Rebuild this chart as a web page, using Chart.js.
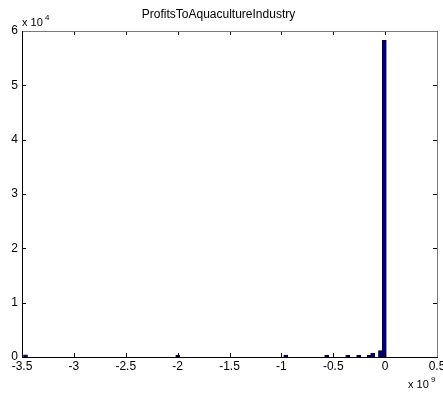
<!DOCTYPE html>
<html>
<head>
<meta charset="utf-8">
<script src="https://cdn.jsdelivr.net/npm/chart.js@4/dist/chart.umd.min.js"></script>
<style>
  html, body { margin: 0; padding: 0; background: #fff; }
  #wrap { width: 443px; height: 401px; }
</style>
</head>
<body>
<div id="wrap"><canvas id="histChart"></canvas></div>
<script>
// bin centres (x 10^9) of the non-empty bins, and their counts
const binCenters = [-3.466, -1.999, -0.958, -0.563, -0.360, -0.255, -0.155, -0.120, -0.045, -0.008];
const binCounts = [380, 300, 350, 300, 320, 330, 330, 680, 1160, 58300];
const xTicks = [-3.5, -3, -2.5, -2, -1.5, -1, -0.5, 0, 0.5];
const yTicks = [0, 10000, 20000, 30000, 40000, 50000, 60000];

const font = "'Liberation Sans', Arial, sans-serif";

// matlab style box with inward ticks and exponent labels
const matlabAxes = {
    id: 'matlabAxes',
    afterDraw(chart) {
        const ctx = chart.ctx;
        const a = chart.chartArea;
        const xs = chart.scales.x, ys = chart.scales.y;
        ctx.save();
        ctx.lineWidth = 1;
        ctx.strokeStyle = '#000';
        ctx.beginPath();
        xTicks.forEach(function (v) {
            const px = Math.round(xs.getPixelForValue(v)) + 0.5;
            ctx.moveTo(px, a.bottom); ctx.lineTo(px, a.bottom - 4);
            ctx.moveTo(px, a.top); ctx.lineTo(px, a.top + 4);
        });
        yTicks.forEach(function (v) {
            const py = Math.round(ys.getPixelForValue(v)) + 0.5;
            ctx.moveTo(a.left, py); ctx.lineTo(a.left + 4, py);
            ctx.moveTo(a.right, py); ctx.lineTo(a.right - 4, py);
        });
        ctx.stroke();
        // box
        ctx.strokeStyle = '#7a7a7a';
        ctx.beginPath();
        ctx.moveTo(a.left, a.top + 0.5); ctx.lineTo(a.right + 0.5, a.top + 0.5);
        ctx.lineTo(a.right + 0.5, a.bottom);
        ctx.stroke();
        ctx.strokeStyle = '#000';
        ctx.beginPath();
        ctx.moveTo(a.left + 0.5, a.top); ctx.lineTo(a.left + 0.5, a.bottom + 0.5);
        ctx.lineTo(a.right + 1, a.bottom + 0.5);
        ctx.stroke();
        // exponents
        ctx.fillStyle = '#000';
        ctx.textBaseline = 'alphabetic';
        ctx.textAlign = 'left';
        ctx.font = '11px ' + font;
        ctx.fillText('x 10', a.left, a.top - 5);
        ctx.fillText('x 10', a.right - 29, a.bottom + 31);
        ctx.font = '8px ' + font;
        ctx.fillText('4', a.left + 23, a.top - 11);
        ctx.fillText('9', a.right - 6, a.bottom + 25);
        ctx.restore();
    }
};

new Chart(document.getElementById('histChart'), {
    type: 'bar',
    data: {
        datasets: [{
            data: binCenters.map(function (c, i) { return { x: c, y: binCounts[i] }; }),
            backgroundColor: '#00007f',
            borderColor: '#000',
            borderWidth: 0.6,
            barThickness: 4
        }]
    },
    options: {
        responsive: true,
        maintainAspectRatio: false,
        animation: false,
        layout: { padding: { right: 6, left: 0, top: 0, bottom: 0 } },
        plugins: {
            legend: { display: false },
            tooltip: { enabled: false },
            title: {
                display: true,
                text: 'ProfitsToAquacultureIndustry',
                color: '#000',
                font: { family: font, size: 12, weight: 'normal' },
                padding: { top: 7, bottom: 9.6 }
            }
        },
        scales: {
            x: {
                type: 'linear',
                offset: false,
                min: -3.5,
                max: 0.5,
                afterBuildTicks: function (scale) {
                    scale.ticks = xTicks.map(function (v) { return { value: v }; });
                },
                afterFit: function (scale) {
                    scale.height = 44;
                    scale.paddingLeft = 0;
                    scale.paddingRight = 0;
                },
                grid: { display: false, drawTicks: false, offset: false },
                border: { display: false },
                ticks: {
                    color: '#000',
                    padding: 2,
                    maxRotation: 0,
                    autoSkip: false,
                    font: { family: font, size: 12 },
                    callback: function (v) { return String(v); }
                }
            },
            y: {
                min: 0,
                max: 60000,
                afterBuildTicks: function (scale) {
                    scale.ticks = yTicks.map(function (v) { return { value: v }; });
                },
                afterFit: function (scale) {
                    scale.width = 22;
                    scale.paddingTop = 0;
                    scale.paddingBottom = 0;
                },
                grid: { display: false, drawTicks: false },
                border: { display: false },
                ticks: {
                    color: '#000',
                    padding: 4,
                    autoSkip: false,
                    font: { family: font, size: 12 },
                    callback: function (v) { return String(v / 10000); }
                }
            }
        }
    },
    plugins: [matlabAxes]
});
</script>
</body>
</html>
